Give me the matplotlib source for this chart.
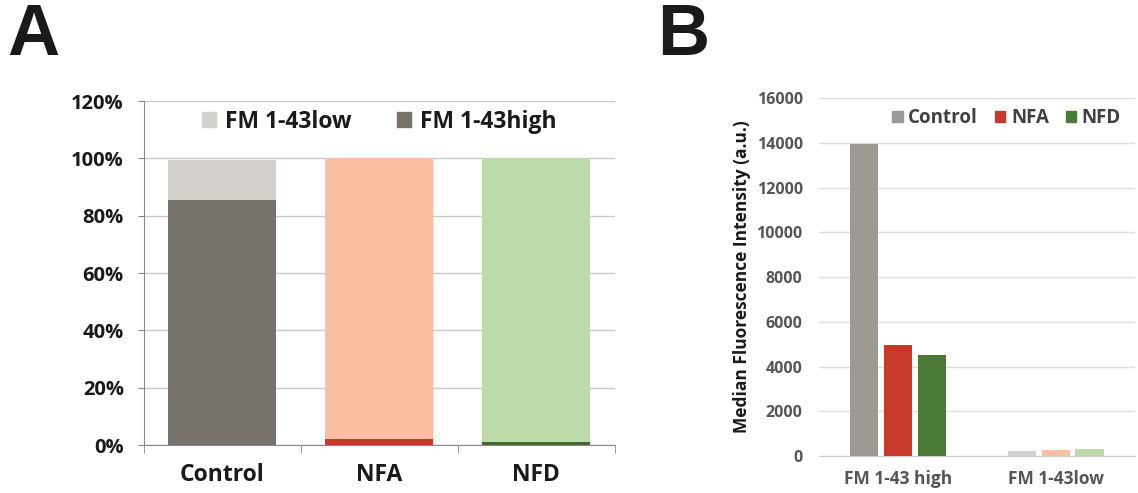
import matplotlib.pyplot as plt
import numpy as np

# panel A: percentage of cells
groups_a = ["Control", "NFA", "NFD"]
high_pct = [85.5, 2.0, 1.2]
low_pct = [14.0, 98.0, 98.8]
high_cols_a = ["#77726c", "#c8392b", "#3f6a2c"]
low_cols_a = ["#d3d0cc", "#f9bfa0", "#bddba8"]

# panel B: median fluorescence intensity
cats_b = ["FM 1-43 high", "FM 1-43low"]
treat_b = ["Control", "NFA", "NFD"]
mfi_high = [13950, 4980, 4500]
mfi_low = [220, 270, 310]
cols_high_b = ["#9e9893", "#c8392b", "#4a7a35"]
cols_low_b = ["#d4d1cd", "#f9bfa0", "#bddba8"]

plt.rcParams['font.family'] = ['Open Sans', 'DejaVu Sans']
grid_c = "#c8c8c8"

fig = plt.figure(figsize=(11.38, 4.93), dpi=100)

# ---- A ----
ax = fig.add_axes([0.1265, 0.097, 0.4135, 0.698])
x = np.arange(len(groups_a))
ax.bar(x, high_pct, width=0.69, color=high_cols_a, zorder=3)
ax.bar(x, low_pct, width=0.69, bottom=high_pct, color=low_cols_a, zorder=3)
ax.set_xlim(-0.5, 2.5)
ax.set_ylim(0, 120)
ax.set_yticks(range(0, 121, 20))
ax.set_yticklabels([f"{v}%" for v in range(0, 121, 20)], fontsize=14.5, fontweight='bold',
                   color="#1a1a1a")
ax.yaxis.grid(True, color=grid_c, lw=1, zorder=0)
ax.set_xticks(x)
ax.set_xticklabels(groups_a, fontsize=16.5, fontweight='bold', color="#1a1a1a")
ax.tick_params(axis='x', length=0, pad=13)
ax.set_xticks([-0.5, 0.5, 1.5, 2.5], minor=True)
ax.tick_params(axis='x', which='minor', length=6, color="#888888")
ax.tick_params(axis='y', length=4.5, color="#888888", pad=10)
for s in ["top", "right"]:
    ax.spines[s].set_visible(False)
ax.spines["left"].set_color("#888888")
ax.spines["bottom"].set_color("#888888")
h1 = plt.Rectangle((0, 0), 1, 1, color=low_cols_a[0])
h2 = plt.Rectangle((0, 0), 1, 1, color=high_cols_a[0])
ax.legend([h1, h2], ["FM 1-43low", "FM 1-43high"], loc="center",
          bbox_to_anchor=(0.5, 0.94), ncol=2, frameon=False,
          prop={'size': 16.5, 'weight': 'bold'}, handlelength=0.6, handleheight=0.6,
          columnspacing=2.0, handletextpad=0.4, labelcolor="#1a1a1a")
fig.text(0.006, 0.995, "A", fontsize=52, fontweight='bold', va='top', family='Liberation Sans',
         color="#1a1a1a")

# ---- B ----
bx = fig.add_axes([0.720, 0.075, 0.277, 0.726])
xb = np.arange(len(cats_b))
w = 0.18
step = 0.215
for i in range(3):
    vals = [mfi_high[i], mfi_low[i]]
    bx.bar(xb + (i - 1) * step, vals, width=w,
           color=[cols_high_b[i], cols_low_b[i]], zorder=3)
bx.set_xlim(-0.5, 1.5)
bx.set_ylim(0, 16000)
bx.set_yticks(range(0, 16001, 2000))
bx.set_yticklabels([str(v) for v in range(0, 16001, 2000)], fontsize=11.5, fontweight='bold',
                   color="#555555")
bx.yaxis.grid(True, color="#dddddd", lw=1, zorder=0)
bx.set_xticks(xb)
bx.set_xticklabels(cats_b, fontsize=12.5, fontweight='bold', color="#555555")
bx.tick_params(axis='both', length=0)
bx.tick_params(axis='x', pad=10)
bx.tick_params(axis='y', pad=12)
for s in ["top", "right", "left"]:
    bx.spines[s].set_visible(False)
bx.spines["bottom"].set_color("#cccccc")
bx.set_ylabel("Median Fluorescence Intensity (a.u.)", fontsize=12.5, fontweight='bold',
              labelpad=4, color="#1a1a1a")
handles = [plt.Rectangle((0, 0), 1, 1, color=c) for c in cols_high_b]
bx.legend(handles, treat_b, loc="center right", bbox_to_anchor=(1.01, 0.945), ncol=3,
          frameon=False, prop={'size': 13.5, 'weight': 'bold'}, handlelength=0.55,
          handleheight=0.55, columnspacing=0.9, handletextpad=0.3, labelcolor="#404040")
fig.text(0.577, 0.995, "B", fontsize=52, fontweight='bold', va='top', family='Liberation Sans',
         color="#1a1a1a")

fig.savefig("out.png", dpi=100)
